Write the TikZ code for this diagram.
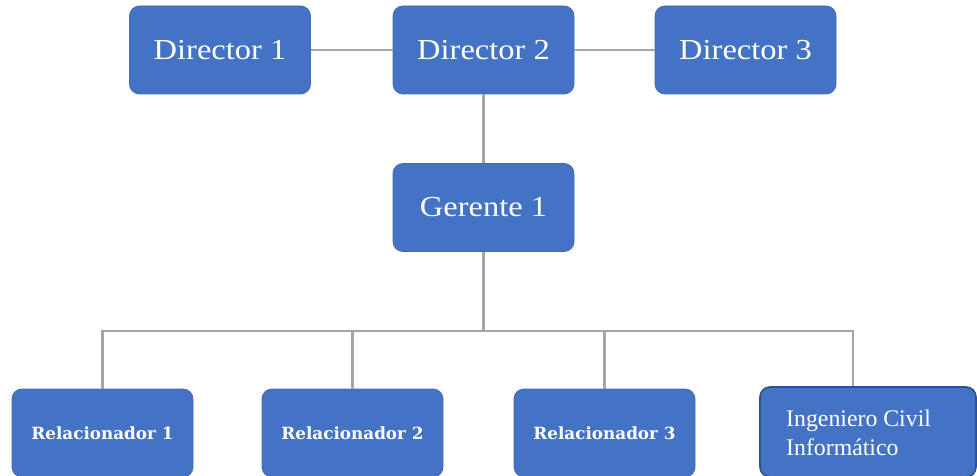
\documentclass[tikz,border=0pt]{standalone}
\usepackage{fontspec}
\setmainfont{Liberation Serif}
\newfontfamily\dirfont[FakeStretch=1.12]{Liberation Serif}
\newfontfamily\relfont{DejaVu Serif}
\definecolor{boxblue}{HTML}{4472C4}
\definecolor{boxedge}{HTML}{3F6AB5}
\definecolor{darkedge}{HTML}{2F528F}
\definecolor{linegray}{HTML}{A5A5A5}
\tikzset{
  orgbox/.style={fill=boxblue, draw=boxedge, line width=0.8pt, rounded corners=10pt,
    minimum width=181pt, minimum height=88pt, inner sep=0pt, text=white},
  bigtext/.style={font=\dirfont\fontsize{29}{32}\selectfont},
  reltext/.style={font=\relfont\bfseries\fontsize{16.8}{19}\selectfont},
  conn/.style={draw=linegray, line width=2.8pt}
}
\begin{document}
\begin{tikzpicture}[x=1pt,y=-1pt]
\useasboundingbox (0,0) rectangle (977,476);
\clip (0,0) rectangle (977,476);
\coordinate (busL) at (102,331);
\coordinate (busR) at (853,331);
\node[orgbox, bigtext] (d1) at (220,50) {Director 1};
\node[orgbox, bigtext] (d2) at (483.5,50) {Director 2};
\node[orgbox, bigtext] (d3) at (745.5,50) {Director 3};
\node[orgbox, bigtext] (g) at (483.5,207.5) {Gerente 1};
\node[orgbox, reltext] (r1) at (102.5,433) {Relacionador 1};
\node[orgbox, reltext] (r2) at (352.5,433) {Relacionador 2};
\node[orgbox, reltext] (r3) at (604.5,433) {Relacionador 3};
\node[fill=boxblue, draw=darkedge, line width=1.6pt, rounded corners=10pt,
  minimum width=216pt, minimum height=90pt, inner sep=0pt] (ic) at (868,432) {};
\node[anchor=west, text=white, align=left, inner sep=0pt,
  font=\fontsize{23.8}{29.5}\selectfont] (ictext) at (786,433) {Ingeniero Civil\\Informático};
\draw[conn] (d1.east) -- (d2.west);
\draw[conn] (d2.east) -- (d3.west);
\draw[conn] (d2.south) -- (g.north);
\draw[conn] (g.south) -- (g.south |- busL);
\draw[conn] (r1.north) -- (r1.north |- busL) -- (busR) -- (busR |- ic.north);
\draw[conn] (r2.north) -- (r2.north |- busL);
\draw[conn] (r3.north) -- (r3.north |- busL);
\end{tikzpicture}
\end{document}
